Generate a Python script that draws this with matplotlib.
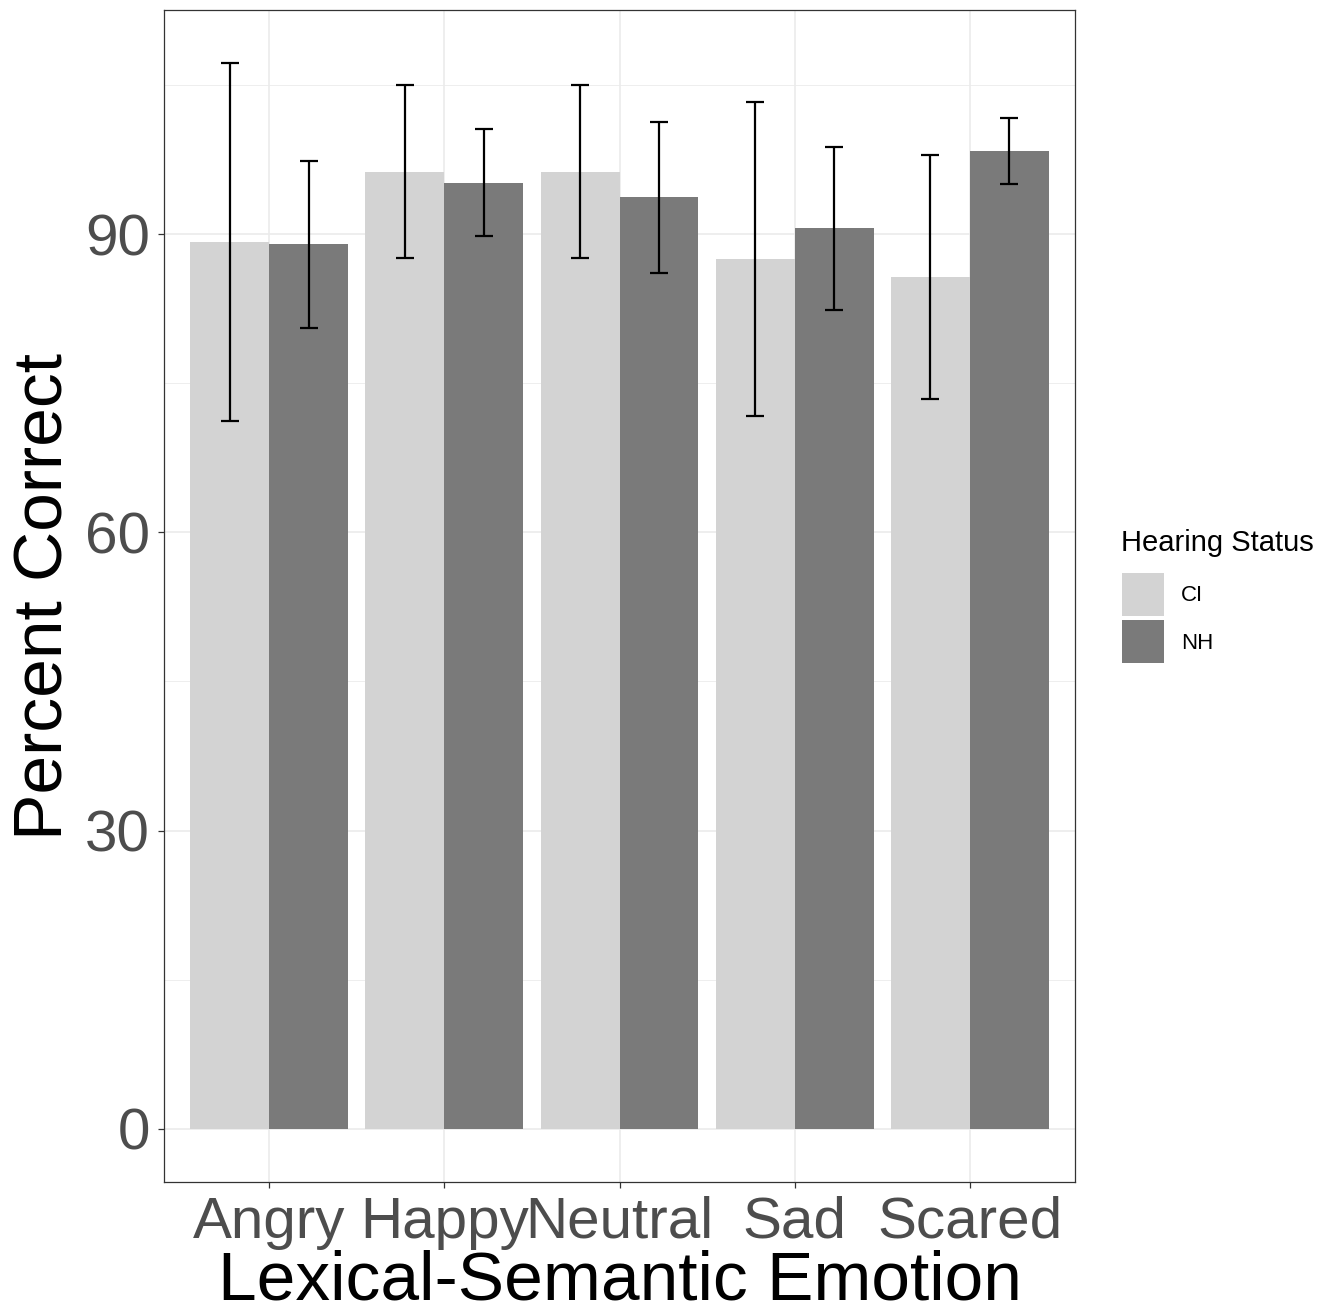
import numpy as np
import matplotlib
matplotlib.use("Agg")
import matplotlib.pyplot as plt
from matplotlib.patches import Patch
from matplotlib.ticker import MultipleLocator

plt.rcParams['font.family'] = ['Liberation Sans', 'DejaVu Sans']

# data
emotions = ['Angry', 'Happy', 'Neutral', 'Sad', 'Scared']
groups = ['CI', 'NH']
ci_mean = [89.2, 96.3, 96.3, 87.5, 85.7]
ci_err = [18.0, 8.7, 8.7, 15.8, 12.3]
nh_mean = [89.0, 95.2, 93.7, 90.6, 98.4]
nh_err = [8.4, 5.4, 7.6, 8.2, 3.3]

colors = {'CI': '#D3D3D3', 'NH': '#7A7A7A'}


def plot_bars(ax):
    """
    Dodged bars with error bars, ggplot style.
    """
    x = np.arange(len(emotions))
    w = 0.45
    series = [(ci_mean, ci_err, -w / 2, 'CI'), (nh_mean, nh_err, w / 2, 'NH')]
    for mean, err, off, name in series:
        ax.bar(x + off, mean, width=w, color=colors[name], linewidth=0, zorder=2)
        ax.errorbar(x + off, mean, yerr=err, fmt='none', ecolor='black',
                    elinewidth=1.6, capsize=6.5, capthick=1.6, zorder=3)

    # ggplot default expansion
    top = max(max(np.add(ci_mean, ci_err)), max(np.add(nh_mean, nh_err)))
    ax.set_ylim(-0.05 * top, 1.05 * top)
    ax.set_xlim(-0.6, len(emotions) - 0.4)
    ax.set_xticks(x)
    ax.set_xticklabels(emotions)
    ax.yaxis.set_major_locator(MultipleLocator(30))
    ax.yaxis.set_minor_locator(MultipleLocator(15))

    ax.grid(which='major', color='#EBEBEB', linewidth=1.2, zorder=0)
    ax.grid(which='minor', axis='y', color='#EBEBEB', linewidth=0.6, zorder=0)
    ax.set_axisbelow(True)

    for s in ax.spines.values():
        s.set_color('#333333')
        s.set_linewidth(0.9)
    ax.tick_params(which='major', length=4, width=0.9, color='#333333',
                   labelsize=42, labelcolor='#4D4D4D', pad=6)
    ax.tick_params(which='minor', length=0)

    ax.set_xlabel('Lexical-Semantic Emotion', fontsize=50, color='black', labelpad=0)
    ax.set_ylabel('Percent Correct', fontsize=50, color='black', labelpad=6)


fig = plt.figure(figsize=(13.32, 13.15), dpi=100)
ax = fig.add_axes([164 / 1332, 1 - 1182 / 1315, (1075 - 164) / 1332, (1182 - 10) / 1315])
plot_bars(ax)

# legend title drawn on its own so the gap to the keys matches ggplot
fig.text(1121 / 1332, 1 - 543 / 1315, 'Hearing Status', fontsize=21,
         ha='left', va='center')
handles = [Patch(facecolor=colors[g], edgecolor='none', label=g) for g in groups]
leg = fig.legend(handles=handles, loc='upper left',
                 bbox_to_anchor=(1122 / 1332, 1 - 573 / 1315), frameon=False,
                 fontsize=16, handlelength=1.9, handleheight=2.6,
                 labelspacing=0.2, handletextpad=0.75, borderpad=0,
                 borderaxespad=0)

fig.savefig('out.png', dpi=100)
